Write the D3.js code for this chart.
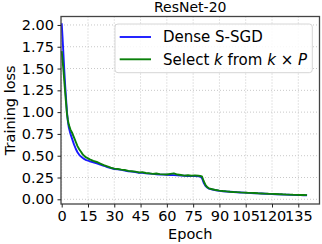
<!DOCTYPE html>
<html>
<head>
<meta charset="utf-8">
<script src="https://cdn.jsdelivr.net/npm/d3@7"></script>
<style>
  html, body { margin: 0; padding: 0; background: #fff; }
  svg { display: block; font-family: "DejaVu Sans", sans-serif; }
</style>
</head>
<body>
<div id="chart"></div>
<script>
// Data
const title = "ResNet-20";
const xTicks = [0, 15, 30, 45, 60, 75, 90, 105, 120, 135];
const yTicks = [0, 0.25, 0.5, 0.75, 1.0, 1.25, 1.5, 1.75, 2.0];

const epochs = [0, 0.5, 1, 1.5, 2, 2.5, 3, 3.5, 4, 5, 6, 7, 8, 9, 10, 11, 12, 13, 14, 15, 16,
  18, 20, 22, 24, 26, 28, 30, 32, 34, 36, 38, 40, 42, 44, 46, 48, 50, 52, 54, 56, 58, 60,
  62, 64, 66, 68, 70, 72, 74, 76, 78, 79, 80, 81, 82, 83, 84, 86, 88, 90, 92, 94, 96, 98,
  100, 102, 104, 106, 108, 110, 112, 114, 116, 118, 120, 122, 124, 126, 128, 130, 132, 134,
  136, 138, 140];

const denseLoss = [2.02, 1.85, 1.66, 1.47, 1.30, 1.15, 1.00, 0.90, 0.83, 0.75, 0.69, 0.63, 0.58,
  0.54, 0.51, 0.49, 0.475, 0.46, 0.45, 0.445, 0.435,
  0.425, 0.412, 0.398, 0.385, 0.37, 0.357, 0.348, 0.343, 0.338, 0.329, 0.322, 0.318, 0.313,
  0.305, 0.303, 0.297, 0.294, 0.291, 0.288, 0.285, 0.283, 0.281,
  0.279, 0.277, 0.275, 0.271, 0.270, 0.268, 0.267, 0.266, 0.265, 0.262, 0.245, 0.19, 0.155,
  0.135, 0.122, 0.112, 0.104, 0.097, 0.093, 0.089, 0.086, 0.083,
  0.080, 0.078, 0.076, 0.074, 0.072, 0.070, 0.068, 0.066, 0.064, 0.062, 0.060, 0.058, 0.057,
  0.055, 0.054, 0.052, 0.051, 0.050, 0.048, 0.047, 0.046];

const selectLoss = [1.70, 1.59, 1.48, 1.35, 1.22, 1.10, 0.98, 0.91, 0.86, 0.80, 0.76, 0.71, 0.66,
  0.61, 0.575, 0.545, 0.515, 0.495, 0.48, 0.47, 0.458,
  0.44, 0.428, 0.41, 0.392, 0.378, 0.362, 0.352, 0.347, 0.34, 0.336, 0.326, 0.322, 0.318,
  0.308, 0.312, 0.302, 0.298, 0.292, 0.296, 0.289, 0.286, 0.284,
  0.292, 0.298, 0.284, 0.278, 0.272, 0.276, 0.270, 0.274, 0.270, 0.268, 0.262, 0.21, 0.165,
  0.14, 0.126, 0.115, 0.106, 0.100, 0.095, 0.091, 0.087, 0.084,
  0.082, 0.079, 0.077, 0.075, 0.074, 0.072, 0.069, 0.067, 0.065, 0.063, 0.062, 0.060, 0.058,
  0.057, 0.055, 0.054, 0.052, 0.051, 0.050, 0.049, 0.048];

const seriesNames = ["Dense S-SGD", "Select k from k × P"];
const seriesColors = ["#1a1aff", "#0a800a"];

// Layout
const W = 322, H = 244;
const M = { top: 16.5, right: 2.5, bottom: 40, left: 61 };
const FONT = 14.5;

const svg = d3.select("#chart").append("svg")
  .attr("width", W).attr("height", H);

const x = d3.scaleLinear().domain([-0.4, 147.1]).range([M.left, W - M.right]);
const y = d3.scaleLinear().domain([-0.054, 2.097]).range([H - M.bottom, M.top]);

// grid
const grid = svg.append("g");
grid.selectAll(".gx").data(xTicks).enter().append("line")
  .attr("x1", d => x(d)).attr("x2", d => x(d))
  .attr("y1", M.top).attr("y2", H - M.bottom)
  .attr("stroke", "#c8c8c8").attr("stroke-width", 1).attr("stroke-dasharray", "1,2");
grid.selectAll(".gy").data(yTicks).enter().append("line")
  .attr("x1", M.left).attr("x2", W - M.right)
  .attr("y1", d => y(d)).attr("y2", d => y(d))
  .attr("stroke", "#c8c8c8").attr("stroke-width", 1).attr("stroke-dasharray", "1,2");

// lines
const line = (vals) => d3.line()
  .x((d, i) => x(epochs[i]))
  .y(d => y(d))(vals);

[denseLoss, selectLoss].forEach((vals, i) => {
  svg.append("path")
    .attr("d", line(vals))
    .attr("fill", "none")
    .attr("stroke", seriesColors[i])
    .attr("stroke-width", 1.9)
    .attr("stroke-linejoin", "round");
});

// frame
svg.append("rect")
  .attr("x", M.left).attr("y", M.top)
  .attr("width", W - M.right - M.left).attr("height", H - M.bottom - M.top)
  .attr("fill", "none").attr("stroke", "#444").attr("stroke-width", 1.3);

// axes
const xAxis = svg.append("g")
  .attr("transform", `translate(0,${H - M.bottom})`)
  .call(d3.axisBottom(x).tickValues(xTicks).tickSize(3.5).tickPadding(3.5).tickFormat(d3.format("d")));
const yAxis = svg.append("g")
  .attr("transform", `translate(${M.left},0)`)
  .call(d3.axisLeft(y).tickValues(yTicks).tickSize(3.5).tickPadding(3.5).tickFormat(d3.format(".2f")));
[xAxis, yAxis].forEach(g => {
  g.select(".domain").remove();
  g.selectAll(".tick line").attr("stroke", "#222").attr("stroke-width", 1);
  g.selectAll(".tick text").attr("fill", "#000")
    .style("font-size", FONT + "px").style("font-family", "DejaVu Sans, sans-serif");
});

// title and labels
svg.append("text")
  .attr("x", (M.left + W - M.right) / 2).attr("y", 12.3)
  .attr("text-anchor", "middle").style("font-size", "14px")
  .text(title);
svg.append("text")
  .attr("x", (M.left + W - M.right) / 2).attr("y", 238.7)
  .attr("text-anchor", "middle").style("font-size", FONT + "px")
  .text("Epoch");
svg.append("text")
  .attr("transform", `translate(14.8,${(M.top + H - M.bottom) / 2}) rotate(-90)`)
  .attr("text-anchor", "middle").style("font-size", FONT + "px")
  .text("Training loss");

// legend
const lg = svg.append("g");
lg.append("rect")
  .attr("x", 115).attr("y", 24).attr("width", 197.3).attr("height", 48.7)
  .attr("rx", 3).attr("fill", "#fff").attr("fill-opacity", 0.85)
  .attr("stroke", "#d6d6d6").attr("stroke-width", 1);
const legendY = [37, 59.3];
seriesNames.forEach((name, i) => {
  lg.append("line")
    .attr("x1", 119.7).attr("x2", 151)
    .attr("y1", legendY[i]).attr("y2", legendY[i])
    .attr("stroke", seriesColors[i]).attr("stroke-width", 1.9);
  const t = lg.append("text")
    .attr("x", 163).attr("y", legendY[i])
    .attr("dy", "0.36em").style("font-size", "15px");
  if (i === 0) {
    t.text(name);
  } else {
    t.append("tspan").text("Select ");
    t.append("tspan").attr("font-style", "italic").text("k");
    t.append("tspan").text(" from ");
    t.append("tspan").attr("font-style", "italic").text("k");
    t.append("tspan").text(" × ");
    t.append("tspan").attr("font-style", "italic").text("P");
  }
});
</script>
</body>
</html>
